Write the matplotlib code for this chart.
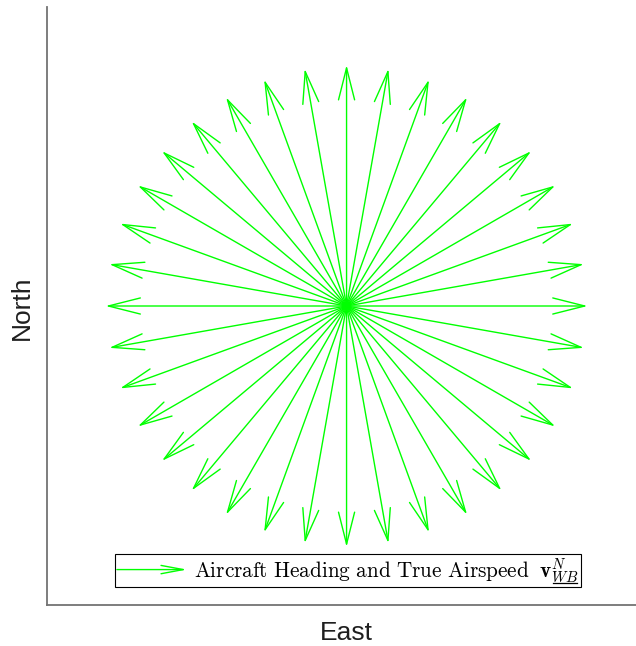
import matplotlib
matplotlib.use("Agg")
import numpy as np
import matplotlib.pyplot as plt
from matplotlib.patches import FancyArrowPatch
from matplotlib.legend_handler import HandlerBase
from matplotlib.lines import Line2D

# Aircraft headings (deg, clockwise from North) and true airspeed magnitude
headings_deg = [0, 10, 20, 30, 40, 50, 60, 70, 80, 90, 100, 110,
                120, 130, 140, 150, 160, 170, 180, 190, 200, 210, 220, 230,
                240, 250, 260, 270, 280, 290, 300, 310, 320, 330, 340, 350]
true_airspeed = 1.0
legend_label = (r"$\mathrm{Aircraft\ Heading\ and\ True\ Airspeed}\ \;"
                r"\mathbf{v}^{N}_{WB}$")
legend_prefix = (r"$\mathrm{Aircraft\ Heading\ and\ True\ Airspeed}\ \;"
                 r"\mathbf{v}$")
x_label = "East"
y_label = "North"

GREEN = "#00ff00"
LEG_FS = 15.3
plt.rcParams["mathtext.fontset"] = "cm"
plt.rcParams["font.family"] = ["Liberation Sans", "DejaVu Sans"]

fig = plt.figure(figsize=(6.36, 6.46), dpi=100)
ax = fig.add_axes([47 / 636, 41 / 646, 1 - 47 / 636, 598 / 646])

for spine in ("top", "right"):
    ax.spines[spine].set_visible(False)
for spine in ("left", "bottom"):
    ax.spines[spine].set_color("0.45")
    ax.spines[spine].set_linewidth(1.3)
ax.set_xticks([])
ax.set_yticks([])

for h in headings_deg:
    rad = np.deg2rad(h)
    east = true_airspeed * np.sin(rad)
    north = true_airspeed * np.cos(rad)
    arr = FancyArrowPatch((0, 0), (east, north),
                          arrowstyle="->,head_length=23,head_width=5.8",
                          mutation_scale=1, color=GREEN, lw=1.0,
                          shrinkA=0, shrinkB=0)
    ax.add_patch(arr)

ax.set_xlim(-1.243, 1.201)
ax.set_ylim(-1.241, 1.241)


class ArrowHandler(HandlerBase):
    def create_artists(self, legend, orig_handle, xdescent, ydescent,
                       width, height, fontsize, trans):
        y = height / 2 - ydescent
        a = FancyArrowPatch((-xdescent, y), (-xdescent + width, y),
                            arrowstyle="->,head_length=16,head_width=3",
                            mutation_scale=1, color=GREEN, lw=1.0,
                            shrinkA=0, shrinkB=0, transform=trans)
        return [a]


proxy = Line2D([], [], color=GREEN)
leg = ax.legend([proxy], [legend_label], handler_map={Line2D: ArrowHandler()},
                loc="lower center", bbox_to_anchor=(0.511, 0.030),
                fontsize=LEG_FS, fancybox=False, framealpha=1,
                edgecolor="black", handlelength=3.3, handletextpad=0.33,
                borderpad=0.1, borderaxespad=0)
leg.get_frame().set_linewidth(0.8)

fig.text(346 / 636, 1 - 633 / 646, x_label, fontsize=19, ha="center",
         va="center", color="0.12")
fig.text(22 / 636, 1 - 308 / 646, y_label, fontsize=19, ha="center",
         va="center", rotation=90, color="0.12")

# underline beneath the subscript of the velocity symbol
fig.canvas.draw()
r = fig.canvas.get_renderer()
txt = leg.get_texts()[0]
bb = txt.get_window_extent(r)
tmp = fig.text(0, 0, legend_prefix, fontsize=LEG_FS)
w_pre = tmp.get_window_extent(r).width
tmp.remove()
x0 = bb.x0 + w_pre + 0.5
x1 = bb.x1 - 2.0
yl = bb.y0 + 1.5
W, H = fig.bbox.width, fig.bbox.height
fig.add_artist(Line2D([x0 / W, x1 / W], [yl / H, yl / H], color="black",
                      lw=0.9, transform=fig.transFigure))

fig.savefig("out.png", dpi=100)
